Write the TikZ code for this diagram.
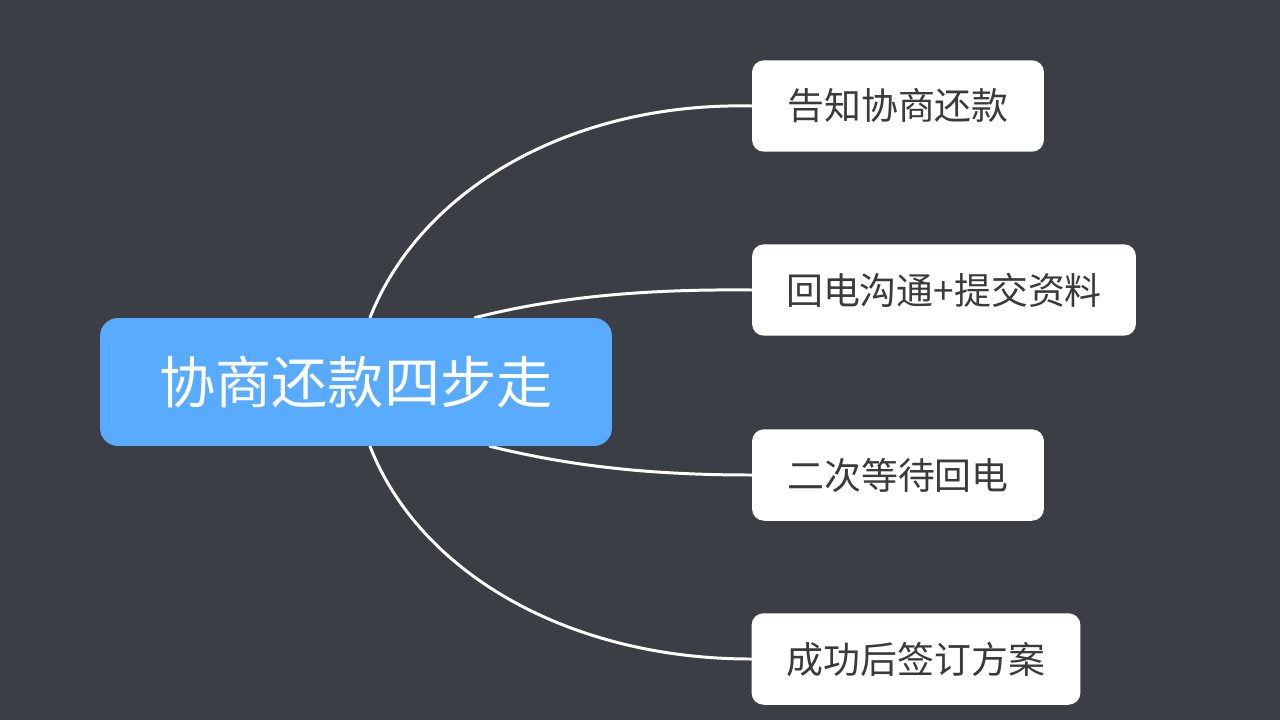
\documentclass[tikz,border=0pt]{standalone}
\usepackage{fontspec}
\setmainfont{Noto Sans CJK SC}
\usetikzlibrary{calc,backgrounds}

\definecolor{bgdark}{HTML}{3B3E44}
\definecolor{hubblue}{HTML}{58ABFF}
\definecolor{steptext}{HTML}{3A3A3A}

\tikzset{
  hubbox/.style={fill=hubblue, rounded corners=0.36cm, text=white,
    minimum width=10.24cm, minimum height=2.56cm, inner sep=0pt,
    font=\fontsize{32}{38}\selectfont},
  stepbox/.style={fill=white, rounded corners=0.24cm, text=steptext,
    minimum height=1.83cm, inner sep=0pt,
    font=\fontsize{21}{25}\selectfont},
  branch/.style={draw=white, line width=1.7pt, line cap=round}
}

\begin{document}
\begin{tikzpicture}[x=0.02cm, y=-0.02cm]

% Page size
\useasboundingbox (0,0) rectangle (1280,720);

% Central topic
\node[hubbox] (hub) at (356,382) {协商还款四步走};

% The four steps
\node[stepbox, minimum width=5.84cm] (s1) at (898,106) {告知协商还款};
\node[stepbox, minimum width=7.68cm] (s2) at (944,290) {回电沟通+提交资料};
\node[stepbox, minimum width=5.84cm] (s3) at (898,475) {二次等待回电};
\node[stepbox, minimum width=6.58cm] (s4) at (916,659) {成功后签订方案};

% Start points of the branches on the hub border
\coordinate (b1) at ($(hub.north)+(14,0)$);
\coordinate (b2) at ($(hub.north)+(119,0)$);
\coordinate (b3) at ($(hub.south)+(134,0)$);
\coordinate (b4) at ($(hub.south)+(14,0)$);

% Background and branches behind the boxes
\begin{scope}[on background layer]
\fill[bgdark] (0,0) rectangle (1280,720);
\draw[branch] (b1) .. controls (420,190) and (570,102) .. (s1.west);
\draw[branch] (b2) .. controls (560,296) and (650,289) .. (s2.west);
\draw[branch] (b3) .. controls (570,466) and (650,475) .. (s3.west);
\draw[branch] (b4) .. controls (420,574) and (570,659) .. (s4.west);
\end{scope}

\end{tikzpicture}
\end{document}
